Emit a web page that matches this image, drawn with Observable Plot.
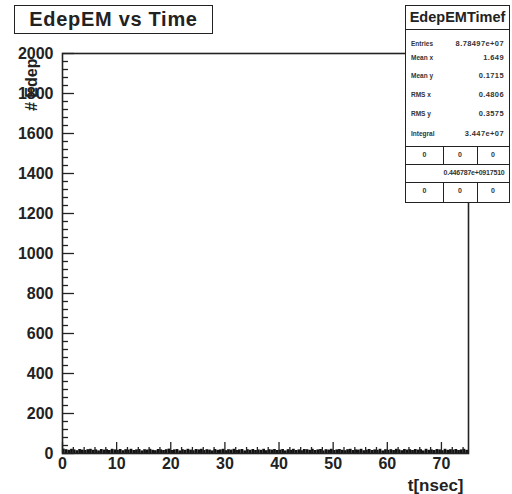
<!DOCTYPE html>
<html>
<head>
<meta charset="utf-8">
<script src="https://cdn.jsdelivr.net/npm/d3@7"></script>
<script src="https://cdn.jsdelivr.net/npm/@observablehq/plot@0.6"></script>
<style>
  html, body { margin: 0; padding: 0; background: white; }
  #wrap { position: relative; width: 512px; height: 494px; overflow: hidden; font-family: "Liberation Sans", Arial, sans-serif; font-weight: bold; color: #222; }
  #title { position: absolute; left: 14px; top: 5px; width: 197px; height: 27px; border: 1.5px solid #222; background: white;
           font-size: 20px; letter-spacing: 0.7px; line-height: 27px; text-align: center; }
  #stats { position: absolute; left: 405px; top: 5px; width: 103px; height: 196px; border: 1.5px solid #222; background: white; }
  #stats .hdr { position: absolute; left: 0; top: 0; width: 103px; height: 23px; border-bottom: 1px solid #222; font-size: 14.5px; line-height: 23px; text-align: center; }
  #stats .row { position: absolute; left: 5px; width: 93px; height: 12px; font-size: 6.5px; line-height: 12px; color: #333; }
  #stats .row .v { position: absolute; right: 0; top: 0; font-size: 7.5px; letter-spacing: 0.4px; }
  #stats .hl { position: absolute; left: 0; width: 103px; height: 0; border-top: 1px solid #222; }
  #stats .vl { position: absolute; width: 0; border-left: 1px solid #222; }
  #stats .cell { position: absolute; font-size: 7px; line-height: 18px; height: 18px; text-align: center; color: #333; }
</style>
</head>
<body>
<div id="wrap">
  <div id="chart"></div>
  <div id="title"></div>
  <div id="stats"></div>
</div>
<script>
// ---- data ----
const titleText = "EdepEM vs Time";
const xLabel = "t[nsec]";
const yLabel = "# Edep";
const statsName = "EdepEMTimef";
const statLabels = ["Entries", "Mean x", "Mean y", "RMS x", "RMS y", "Integral"];
const statValues = ["8.78497e+07", "1.649", "0.1715", "0.4806", "0.3575", "3.447e+07"];
const gridRow1 = ["0", "0", "0"];
const gridRow2 = "0.446787e+0917510";
const gridRow3 = ["0", "0", "0"];

const binWidth = 0.5; // nsec
const counts = [
  22, 19, 16, 21, 18, 14, 20, 17, 15, 19,
  21, 16, 18, 13, 20, 17, 19, 15, 21, 18,
  16, 20, 14, 19, 17, 21, 15, 18, 20, 13,
  19, 17, 21, 16, 14, 20, 18, 15, 19, 22,
  15, 18, 20, 13, 19, 16, 21, 17, 14, 20,
  18, 21, 15, 19, 17, 13, 20, 16, 18, 21,
  14, 19, 17, 21, 15, 18, 20, 13, 19, 16,
  20, 15, 18, 16, 21, 14, 19, 17, 20, 15,
  17, 20, 13, 19, 16, 21, 15, 18, 14, 20,
  19, 16, 21, 15, 18, 20, 13, 19, 17, 21,
  15, 18, 20, 16, 14, 19, 21, 15, 18, 17,
  21, 14, 17, 20, 15, 18, 16, 21, 13, 19,
  16, 19, 15, 21, 18, 14, 20, 17, 19, 15,
  20, 17, 19, 13, 21, 16, 18, 15, 20, 18,
  14, 21, 16, 19, 17, 20, 15, 18, 21, 16
];
const xDomain = [0, 75];
const yDomain = [0, 2000];
const xMajor = [0, 10, 20, 30, 40, 50, 60, 70];
const xMinor = d3.range(0, 75, 2).filter(v => v % 10 !== 0);
const yMajor = d3.range(0, 2001, 200);
const yMinor = d3.range(0, 2001, 40).filter(v => v % 200 !== 0);

// ---- layout ----
const W = 512, H = 494;
const mL = 62, mR = 44, mT = 53, mB = 41;
const plotW = W - mL - mR, plotH = H - mT - mB;
const pxToX = px => px / plotW * (xDomain[1] - xDomain[0]);
const pxToY = px => px / plotH * (yDomain[1] - yDomain[0]);

const bins = counts.map((n, i) => ({x1: i * binWidth, x2: (i + 1) * binWidth, n}));
const tickColor = "#222";

const chart = Plot.plot({
  width: W, height: H,
  marginLeft: mL, marginRight: mR, marginTop: mT, marginBottom: mB,
  x: {domain: xDomain},
  y: {domain: yDomain},
  style: {fontFamily: "'Liberation Sans', Arial, sans-serif", fontWeight: "bold", fontSize: "16px", color: "#222", background: "white", overflow: "visible"},
  marks: [
    Plot.rectY(bins, {x1: "x1", x2: "x2", y: "n", fill: "#111"}),
    Plot.ruleY(yMajor, {y: d => d, x1: xDomain[0], x2: xDomain[0] + pxToX(12), stroke: tickColor, strokeWidth: 1.3}),
    Plot.ruleY(yMinor, {y: d => d, x1: xDomain[0], x2: xDomain[0] + pxToX(6), stroke: tickColor, strokeWidth: 1.3}),
    Plot.ruleX(xMajor, {x: d => d, y1: yDomain[0], y2: yDomain[0] + pxToY(11), stroke: tickColor, strokeWidth: 1.3}),
    Plot.ruleX(xMinor, {x: d => d, y1: yDomain[0], y2: yDomain[0] + pxToY(6), stroke: tickColor, strokeWidth: 1.3}),
    Plot.axisY({ticks: yMajor, tickSize: 0, tickPadding: 9, label: null, tickFormat: d => String(d)}),
    Plot.axisX({ticks: xMajor, tickSize: 0, tickPadding: 4, label: null, tickFormat: d => String(d)}),
    Plot.frame({stroke: "#222", strokeWidth: 1.6}),
    Plot.text([yLabel], {text: d => d, frameAnchor: "top-left", rotate: -90, textAnchor: "end", lineAnchor: "middle", dx: -31, dy: 5, fontSize: 16, fill: "#222"}),
    Plot.text([xLabel], {text: d => d, frameAnchor: "bottom-right", textAnchor: "end", lineAnchor: "middle", dx: -5, dy: 32, fontSize: 17, fill: "#222"})
  ]
});
document.getElementById("chart").appendChild(chart);

// ---- title & stats overlays ----
document.getElementById("title").textContent = titleText;
const st = document.getElementById("stats");
let html = `<div class="hdr">${statsName}</div>`;
const rowY = [32, 46, 64, 83, 102, 122];
statLabels.forEach((l, i) => {
  html += `<div class="row" style="top:${rowY[i]}px">${l}<span class="v">${statValues[i]}</span></div>`;
});
const gTop = 140, rowH = 18, c1 = 37, c2 = 71, bw = 103;
html += `<div class="hl" style="top:${gTop}px"></div>`;
html += `<div class="hl" style="top:${gTop + rowH}px"></div>`;
html += `<div class="hl" style="top:${gTop + 2 * rowH}px"></div>`;
[[gTop, rowH], [gTop + 2 * rowH, rowH + 2]].forEach(([t, h]) => {
  html += `<div class="vl" style="left:${c1}px;top:${t}px;height:${h}px"></div>`;
  html += `<div class="vl" style="left:${c2}px;top:${t}px;height:${h}px"></div>`;
});
const cols = [[0, c1], [c1, c2 - c1], [c2, bw - c2]];
gridRow1.forEach((v, i) => { html += `<div class="cell" style="left:${cols[i][0]}px;width:${cols[i][1]}px;top:${gTop}px">${v}</div>`; });
html += `<div class="cell" style="left:33px;width:70px;top:${gTop + rowH}px;letter-spacing:-0.2px">${gridRow2}</div>`;
gridRow3.forEach((v, i) => { html += `<div class="cell" style="left:${cols[i][0]}px;width:${cols[i][1]}px;top:${gTop + 2 * rowH}px">${v}</div>`; });
st.innerHTML = html;
</script>
</body>
</html>
